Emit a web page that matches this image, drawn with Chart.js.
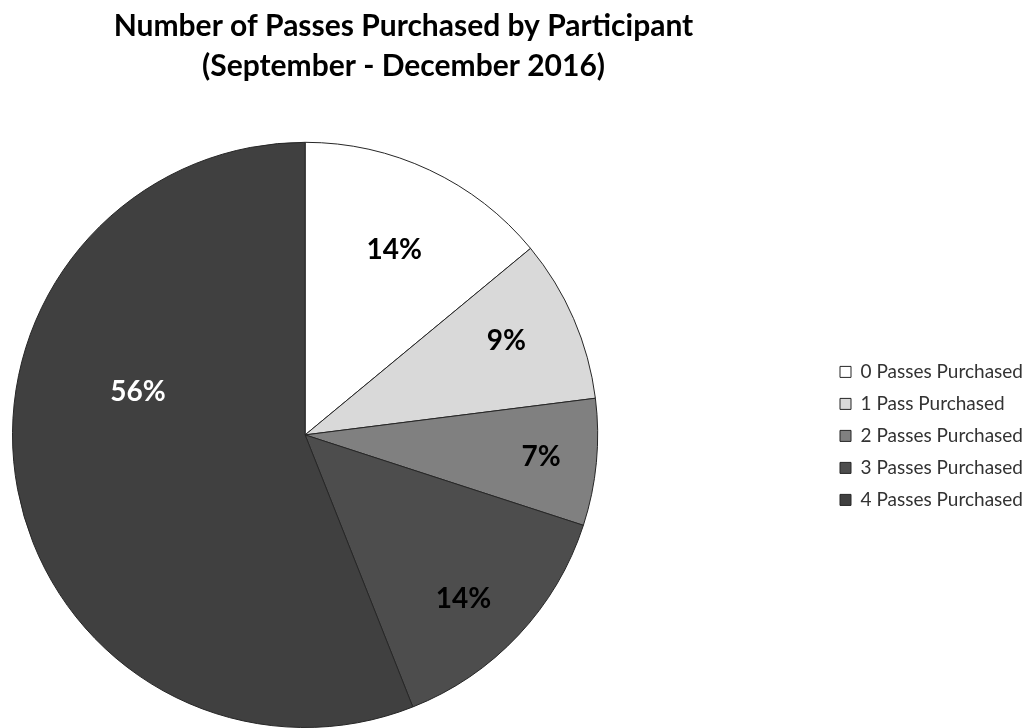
<!DOCTYPE html>
<html>
<head>
<meta charset="utf-8">
<script src="https://cdn.jsdelivr.net/npm/chart.js@4"></script>
<style>
  html, body { margin: 0; padding: 0; background: #fff; }
  #wrap { width: 1030px; height: 728px; }
</style>
</head>
<body>
<div id="wrap"><canvas id="passes"></canvas></div>
<script>
const categories = ['0 Passes Purchased', '1 Pass Purchased', '2 Passes Purchased', '3 Passes Purchased', '4 Passes Purchased']
const shares = [14, 9, 7, 14, 56]
const sliceColors = ['#ffffff', '#d9d9d9', '#808080', '#4d4d4d', '#404040']
const labelColors = ['#000000', '#000000', '#000000', '#000000', '#ffffff']

// Excel puts the pie on the left and the legend far right, so move the boxes after layout
const placeBoxes = {
  id: 'placeBoxes',
  afterLayout(chart, args, opts) {
    const a = chart.chartArea
    a.left = opts.pieLeft
    a.right = opts.pieLeft + a.height
    a.width = a.height
    const t = chart.titleBlock
    t.left = 0
    t.right = opts.titleRight
    t.width = opts.titleRight
    const l = chart.legend
    l.left = opts.legendLeft
    l.right = chart.width
    l.width = chart.width - opts.legendLeft
    l.top = a.top + opts.legendShift
    l.bottom = a.bottom + opts.legendShift
    l.height = a.height
  }
}

// percent labels on the slices, near the mid angle like Excel's best fit
const percentLabels = {
  id: 'percentLabels',
  afterDatasetsDraw(chart, args, opts) {
    const ctx = chart.ctx
    const meta = chart.getDatasetMeta(0)
    ctx.save()
    ctx.font = 'bold 28px Lato'
    ctx.textAlign = 'center'
    ctx.textBaseline = 'middle'
    meta.data.forEach((arc, i) => {
      const p = arc.getProps(['x', 'y', 'startAngle', 'endAngle', 'outerRadius'])
      const angle = (p.startAngle + p.endAngle) / 2 + opts.turn[i]
      const r = p.outerRadius * opts.factor[i]
      ctx.fillStyle = labelColors[i]
      ctx.fillText(shares[i] + '%', p.x + Math.cos(angle) * r, p.y + Math.sin(angle) * r)
    })
    ctx.restore()
  }
}

new Chart('passes', {
  type: 'pie',
  data: {
    labels: categories,
    datasets: [{
      data: shares,
      backgroundColor: sliceColors,
      borderColor: '#262626',
      borderWidth: 1
    }]
  },
  options: {
    responsive: true,
    maintainAspectRatio: false,
    animation: false,
    layout: { padding: 0 },
    plugins: {
      tooltip: { enabled: false },
      title: {
        display: true,
        text: ['Number of Passes Purchased by Participant', '(September - December 2016)'],
        color: '#000',
        font: { family: 'Lato', size: 30, weight: 'bold', lineHeight: 1.33 },
        padding: { top: 6, bottom: 56 }
      },
      legend: {
        position: 'right',
        labels: {
          color: '#333333',
          font: { family: 'Lato', size: 19 },
          boxWidth: 11,
          boxHeight: 11,
          padding: 13
        }
      },
      placeBoxes: { pieLeft: 12, titleRight: 807, legendLeft: 827, legendShift: 1 },
      percentLabels: {
        factor: [0.70, 0.76, 0.81, 0.78, 0.59],
        turn: [0.01, -0.03, 0, 0.05, 0.44]
      }
    }
  },
  plugins: [placeBoxes, percentLabels]
})
</script>
</body>
</html>
